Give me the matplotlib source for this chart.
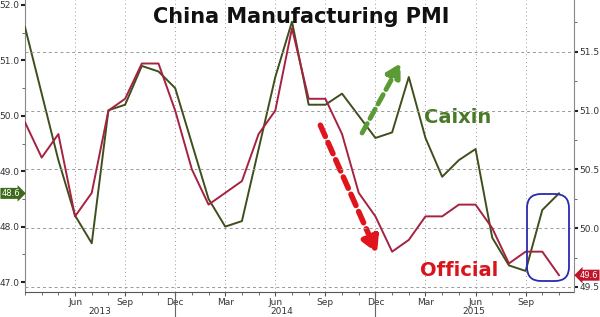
import matplotlib
matplotlib.use('Agg')
import matplotlib.pyplot as plt
from matplotlib.patches import FancyBboxPatch
from matplotlib.transforms import IdentityTransform

# monthly readings, Mar 2013 .. Nov 2015
months = ['Mar 2013', 'Apr 2013', 'May 2013', 'Jun 2013', 'Jul 2013', 'Aug 2013', 'Sep 2013',
          'Oct 2013', 'Nov 2013', 'Dec 2013', 'Jan 2014', 'Feb 2014', 'Mar 2014', 'Apr 2014',
          'May 2014', 'Jun 2014', 'Jul 2014', 'Aug 2014', 'Sep 2014', 'Oct 2014', 'Nov 2014',
          'Dec 2014', 'Jan 2015', 'Feb 2015', 'Mar 2015', 'Apr 2015', 'May 2015', 'Jun 2015',
          'Jul 2015', 'Aug 2015', 'Sep 2015', 'Oct 2015', 'Nov 2015']
caixin = [51.6, 50.4, 49.2, 48.2, 47.7, 50.1, 50.2, 50.9, 50.8, 50.5, 49.5, 48.5, 48.0, 48.1,
          49.4, 50.7, 51.7, 50.2, 50.2, 50.4, 50.0, 49.6, 49.7, 50.7, 49.6, 48.9, 49.2, 49.4,
          47.8, 47.3, 47.2, 48.3, 48.6]
official = [50.9, 50.6, 50.8, 50.1, 50.3, 51.0, 51.1, 51.4, 51.4, 51.0, 50.5, 50.2, 50.3, 50.4,
            50.8, 51.0, 51.7, 51.1, 51.1, 50.8, 50.3, 50.1, 49.8, 49.9, 50.1, 50.1, 50.2, 50.2,
            50.0, 49.7, 49.8, 49.8, 49.6]
quarter_labels = ['Jun', 'Sep', 'Dec', 'Mar', 'Jun', 'Sep', 'Dec', 'Mar', 'Jun', 'Sep']
years = ['2013', '2014', '2015']

green = '#3f4f1c'
red = '#a52240'
x = list(range(len(months)))

fig = plt.figure(figsize=(6, 3.17), dpi=100)
ax = fig.add_axes([25 / 600, 25 / 317, 549 / 600, 292 / 317])
ax2 = ax.twinx()

ax.plot(x, caixin, color=green, lw=1.4, zorder=3)
ax2.plot(x, official, color=red, lw=1.4, zorder=3)

ax.set_xlim(0, 32.9)
ax.set_ylim(46.82, 52.09)
ax2.set_ylim(49.457, 51.94)

ax.set_yticks([47, 48, 49, 50, 51, 52])
ax.set_yticklabels(['47.0', '48.0', '49.0', '50.0', '51.0', '52.0'])
ax.set_yticks([47.5, 48.5, 49.5, 50.5, 51.5], minor=True)
ax2.set_yticks([49.5, 50.0, 50.5, 51.0, 51.5])
ax2.set_yticks([49.75, 50.25, 50.75, 51.25, 51.75], minor=True)

qticks = [3, 6, 9, 12, 15, 18, 21, 24, 27, 30]
ax.set_xticks(qticks)
ax.set_xticklabels(quarter_labels)
ax.set_xticks(x, minor=True)

for a in (ax, ax2):
    a.tick_params(axis='both', which='major', labelsize=6.5, labelcolor='#333333',
                  color='#222222', length=3, width=1.5, pad=1)
    a.tick_params(axis='both', which='minor', color='#555555', length=2, width=0.6)
    for s in a.spines.values():
        s.set_visible(False)
ax.spines['left'].set_visible(True)
ax.spines['bottom'].set_visible(True)
ax2.spines['right'].set_visible(True)
ax.spines['left'].set_color('#888888')
ax.spines['bottom'].set_color('#555555')
ax2.spines['right'].set_color('#888888')
ax.tick_params(axis='x', which='major', color='#555555', length=3, width=0.8)

ax.grid(axis='x', which='major', color='#999999', ls=(0, (1, 3)), lw=0.7)
ax2.grid(axis='y', which='major', color='#999999', ls=(0, (3, 3)), lw=0.7)
ax.set_axisbelow(True)

# year labels and year separators
for xi, yr in zip([4.5, 15.4, 26.9], years):
    ax.text(xi, -0.066, yr, transform=ax.get_xaxis_transform(), ha='center', va='center',
            fontsize=6.5, color='#333333')
for xs in [9, 21]:
    ax.plot([xs, xs], [0, -0.09], transform=ax.get_xaxis_transform(), color='#666666',
            lw=0.8, clip_on=False)

fig.text(0.502, 1 - 17 / 317, 'China Manufacturing PMI', ha='center', va='center',
         fontsize=15, fontweight='bold', color='#111111')
ax.text(23.9, 49.97, 'Caixin', color='#4a7a28', fontsize=14, fontweight='bold', va='center')
ax.text(23.7, 47.2, 'Official', color='#d8141c', fontsize=14, fontweight='bold', va='center')

# arrows
ax.annotate('', xy=(21.1, 47.52), xytext=(17.7, 49.83),
            arrowprops=dict(arrowstyle='-|>,head_width=0.5,head_length=0.9', color='#e0141c',
                            lw=4, ls=(0, (2.2, 1.2)), shrinkA=0, shrinkB=0))
ax.annotate('', xy=(22.5, 50.95), xytext=(20.2, 49.69),
            arrowprops=dict(arrowstyle='-|>,head_width=0.45,head_length=0.8', color='#5c9a35',
                            lw=3.5, ls=(0, (2.2, 1.2)), shrinkA=0, shrinkB=0))

# highlight box
box = FancyBboxPatch((527, 36), 42, 87, boxstyle='round,pad=0,rounding_size=14',
                     transform=IdentityTransform(), fill=False, edgecolor='#2a2ab0', lw=1.3)
fig.add_artist(box)

# last value tags
ax.text(-0.009, caixin[-1], '%.1f' % caixin[-1], transform=ax.get_yaxis_transform(),
        ha='right', va='center', fontsize=6, color='white',
        bbox=dict(boxstyle='rarrow,pad=0.12', fc='#3f6a1c', ec='none'))
ax2.text(1.011, official[-1], '%.1f' % official[-1], transform=ax2.get_yaxis_transform(),
         ha='left', va='center', fontsize=6, color='white',
         bbox=dict(boxstyle='larrow,pad=0.12', fc='#c0142a', ec='none'))

fig.savefig('out.png', dpi=100)
